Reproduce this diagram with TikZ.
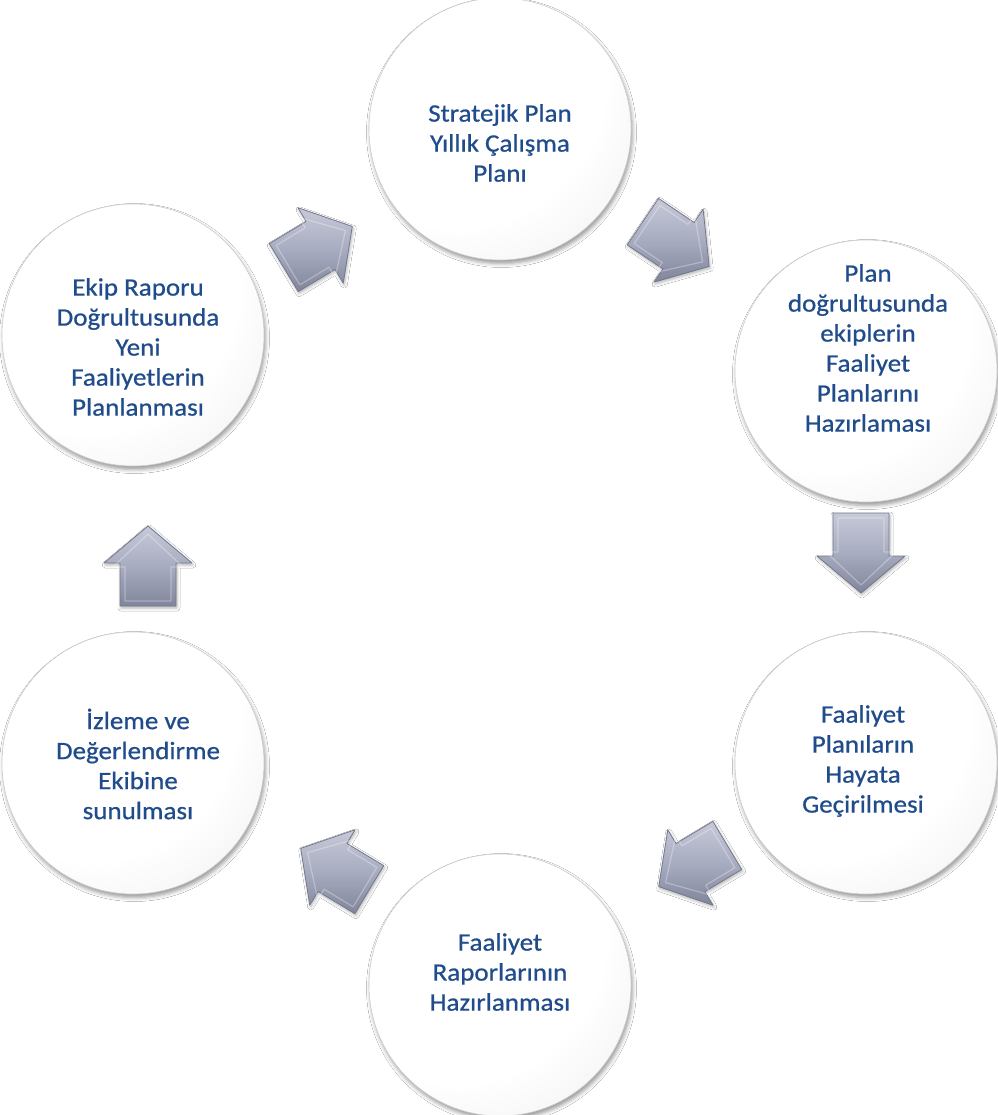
\documentclass[tikz,border=0pt]{standalone}
\usepackage{fontspec}
\setmainfont[FakeStretch=1.08,FakeBold=0.7]{Carlito}
\usetikzlibrary{shadows.blur}
\definecolor{txtblue}{RGB}{32,76,140}
\definecolor{arwlight}{RGB}{198,201,216}
\definecolor{arwmid}{RGB}{168,172,192}
\definecolor{arwdark}{RGB}{128,133,155}
\pgfdeclareradialshading{bubble}{\pgfpoint{-14bp}{16bp}}{color(0bp)=(white); color(28bp)=(white); color(46bp)=(black!8); color(58bp)=(black!20); color(66bp)=(black!32)}
\tikzset{
  bubble/.style={circle, minimum size=262pt, inner sep=0pt, shading=bubble,
    draw=black!20, line width=0.6pt,
    blur shadow={shadow xshift=1.5pt, shadow yshift=-3.5pt, shadow opacity=40, shadow blur radius=4pt}},
  lbl/.style={font=\fontsize{25}{30}\selectfont, text=txtblue, align=center, inner sep=0pt},
  blockarrow/.style={top color=arwlight, bottom color=arwdark, middle color=arwmid,
    draw=arwdark!90!black, line width=0.8pt, line join=round,
    blur shadow={shadow xshift=1pt, shadow yshift=-2pt, shadow opacity=30, shadow blur radius=3pt}},
  barrow/.pic={
    \path[blockarrow] (-40,-28) -- (3,-28) -- (3,-44) -- (40,0) -- (3,44) -- (3,28) -- (-40,28) -- cycle;
    \draw[white, opacity=0.3, line width=1.2pt, line join=round]
      (-35,-23) -- (-1,-23) -- (-1,-35) -- (32,0) -- (-1,35) -- (-1,23) -- (-35,23) -- cycle;
  }
}
\begin{document}
\begin{tikzpicture}[x=1pt,y=-1pt]
\useasboundingbox[fill=white] (0,0) rectangle (997,1115);
% circles
\node[bubble] (c1) at (500,129) {};
\node[bubble] (c2) at (866,371) {};
\node[bubble] (c3) at (866,763) {};
\node[bubble] (c4) at (500,985) {};
\node[bubble] (c5) at (133,763) {};
\node[bubble] (c6) at (133,335) {};
% labels
\node[lbl] (t1) at (500,143) {Stratejik Plan\\Yıllık Çalışma\\Planı};
\node[lbl] (t2) at (868,348) {Plan\\doğrultusunda\\ekiplerin\\Faaliyet\\Planlarını\\Hazırlaması};
\node[lbl] (t3) at (863,761) {Faaliyet\\Planıların\\Hayata\\Geçirilmesi};
\node[lbl] (t4) at (500,972) {Faaliyet\\Raporlarının\\Hazırlanması};
\node[lbl] (t5) at (138,764) {İzleme ve\\Değerlendirme\\Ekibine\\sunulması};
\node[lbl] (t6) at (138,347) {Ekip Raporu\\Doğrultusunda\\Yeni\\Faaliyetlerin\\Planlanması};
% block arrows
\pic[rotate=31] (a1) at (318,247) {barrow};
\pic[rotate=-34] (a2) at (676,244) {barrow};
\pic[rotate=-90] (a3) at (861,553) {barrow};
\pic[rotate=211] (a4) at (693,866) {barrow};
\pic[rotate=149] (a5) at (335,869) {barrow};
\pic[rotate=90] (a6) at (148,566) {barrow};
\end{tikzpicture}
\end{document}
